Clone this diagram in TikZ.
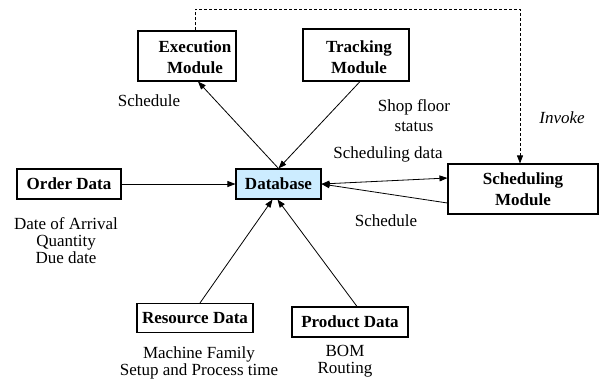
\documentclass[tikz,border=0pt]{standalone}
\usepackage{fontspec}
\setmainfont{Liberation Serif}
\usetikzlibrary{arrows.meta}
\definecolor{dbfill}{HTML}{CCECFF}
\begin{document}
\begin{tikzpicture}[x=1pt,y=-1pt,
  box/.style={draw, line width=1.1pt, inner sep=0pt, align=center,
    font=\fontsize{17}{21.5}\selectfont\bfseries},
  boxtext/.style={inner sep=0pt, align=center,
    font=\fontsize{17}{21.5}\selectfont\bfseries},
  lbl/.style={inner sep=0pt, align=center, font=\fontsize{17}{17}\selectfont},
  arr/.style={line width=0.8pt, -{Triangle[length=8pt,width=6pt]}},
  dblarr/.style={line width=0.8pt, {Triangle[length=8pt,width=6pt]}-{Triangle[length=8pt,width=6pt]}},
  invokeline/.style={line width=0.7pt, dash pattern=on 3pt off 2pt, -{Triangle[length=8pt,width=6pt]}}
]
% canvas
\fill[white] (0,0) rectangle (602,381);
\useasboundingbox (0,0) rectangle (602,381);

% modules and data sources
\node[box, minimum width=98pt, minimum height=50pt] (exec) at (187,56) {};
\node[boxtext] (exectext) at (195,57) {Execution\\Module};
\node[box, minimum width=106pt, minimum height=52pt] (trk) at (356,55) {};
\node[boxtext] (trktext) at (359,57) {Tracking\\Module};
\node[box, minimum width=104pt, minimum height=30pt] (order) at (69,184) {Order Data};
\node[box, fill=dbfill, minimum width=85pt, minimum height=30pt] (db) at (278.5,184) {Database};
\node[box, minimum width=150pt, minimum height=50pt] (sched) at (523,189) {Scheduling\\Module};
\node[box, minimum width=116pt, minimum height=29pt] (res) at (195,318) {Resource Data};
\node[box, minimum width=116pt, minimum height=30pt] (prod) at (350,322) {Product Data};

% connectors
\draw[arr] (db.north) -- ([xshift=11pt]exec.south);
\draw[arr] ([xshift=4pt]trk.south) -- (db.north);
\draw[arr] (order.east) -- (db.west);
\draw[arr] ([xshift=5pt]res.north) -- ([xshift=-6pt]db.south);
\draw[arr] ([xshift=7pt]prod.north) -- ([xshift=-1pt]db.south);
\draw[dblarr] (db.east) -- ([yshift=11pt]sched.west);
\draw[arr] ([yshift=-14pt]sched.west) -- (db.east);
\draw[invokeline] ([xshift=8pt]exec.north) -- ++(0,-21) -| ([xshift=-3pt]sched.north);

% labels
\node[lbl] (l1) at (149,101) {Schedule};
\node[lbl, font=\fontsize{17}{20}\selectfont] (l2) at (414,116) {Shop floor\\status};
\node[lbl, font=\fontsize{17}{17}\selectfont\itshape] (l3) at (562,118) {Invoke};
\node[lbl] (l4) at (388,154) {Scheduling data};
\node[lbl] (l5) at (386,221) {Schedule};
\node[lbl] (l6) at (66,241) {Date of Arrival\\Quantity\\Due date};
\node[lbl] (l7) at (199,363) {Machine Family\\Setup and Process time};
\node[lbl] (l8) at (345,361) {BOM\\Routing};
\end{tikzpicture}
\end{document}
